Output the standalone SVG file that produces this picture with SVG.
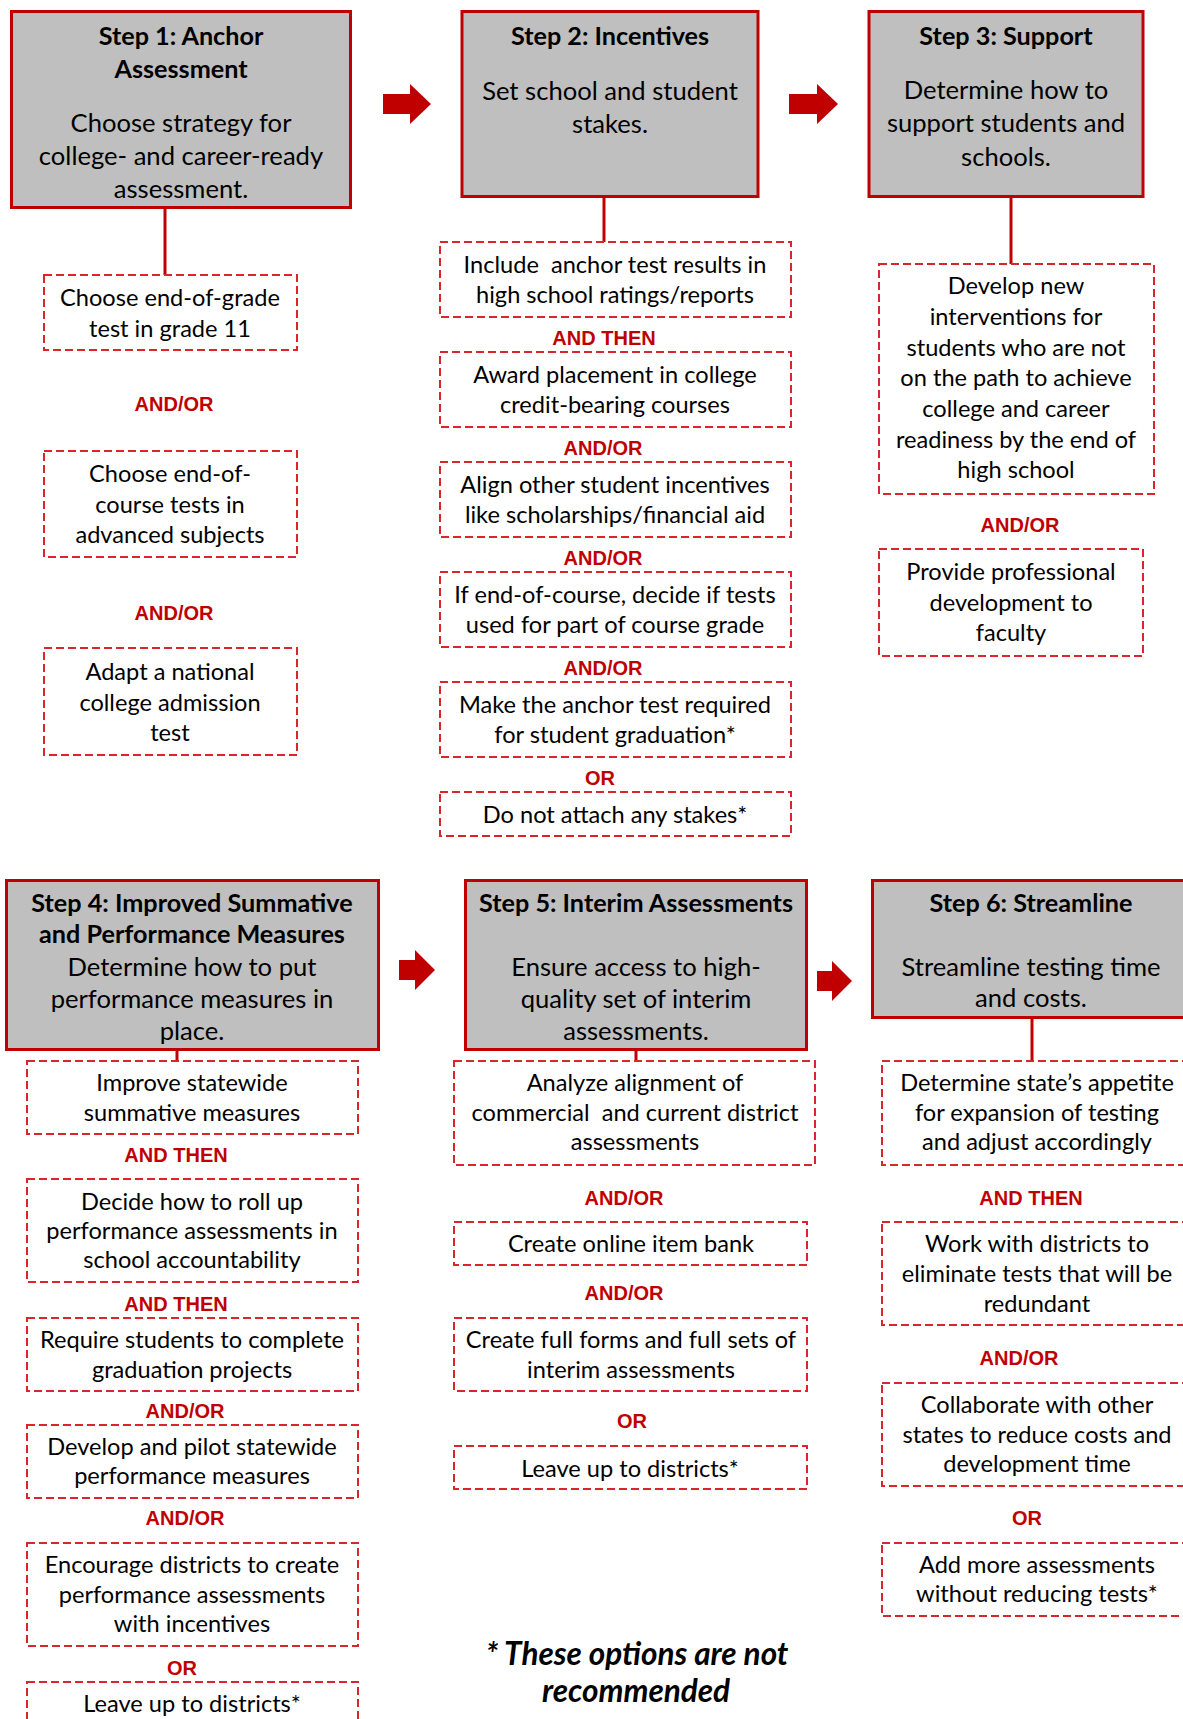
<svg xmlns="http://www.w3.org/2000/svg" width="1183" height="1719" viewBox="0 0 1183 1719">
<style>
.step{fill:#BFBFBF;stroke:#C00000;stroke-width:3}
.opt{fill:#FFFFFF;stroke:#D9262B;stroke-width:2;stroke-dasharray:8 4}
.conn{stroke:#C00000;stroke-width:3;fill:none}
.arrow{fill:#C00000}
text{font-family:Lato,"Open Sans","Liberation Sans",sans-serif;text-anchor:middle;fill:#000}
.t{font-size:25.2px;font-weight:bold}
.b{font-size:25.6px}
.o{font-size:23.6px}
.lab{font-family:"Liberation Sans",Arial,sans-serif;font-size:20px;font-weight:bold;fill:#C00000}
.foot{font-size:31.5px;font-weight:bold;font-style:italic}
</style>
<rect width="1183" height="1719" fill="#FFFFFF"/>
<g id="connectors">
<line class="conn" x1="165" y1="209" x2="165" y2="275"/>
<line class="conn" x1="604" y1="198" x2="604" y2="242"/>
<line class="conn" x1="1011" y1="198" x2="1011" y2="264"/>
<line class="conn" x1="177" y1="1051" x2="177" y2="1061"/>
<line class="conn" x1="636" y1="1051" x2="636" y2="1061"/>
<line class="conn" x1="1032" y1="1019" x2="1032" y2="1061"/>
<polygon class="arrow" points="383,94 410,94 410,84 431,104 410,124 410,114 383,114"/>
<polygon class="arrow" points="789,94 817,94 817,84 838,104 817,124 817,114 789,114"/>
<polygon class="arrow" points="399,960 415,960 415,950 435,970 415,990 415,980 399,980"/>
<polygon class="arrow" points="817,971 832,971 832,961 852,981 832,1001 832,991 817,991"/>
</g>
<g id="step1">
<rect class="step" x="11.5" y="11.5" width="339" height="196"/>
<text class="t"><tspan x="181" y="45">Step 1: Anchor</tspan><tspan x="181" y="78">Assessment</tspan></text>
<text class="b"><tspan x="181" y="132">Choose strategy for</tspan><tspan x="181" y="165">college- and career-ready</tspan><tspan x="181" y="198">assessment.</tspan></text>
</g>
<g id="opt1a">
<rect class="opt" x="44" y="275" width="253" height="75"/>
<text class="o"><tspan x="170" y="306">Choose end-of-grade</tspan><tspan x="170" y="337">test in grade 11</tspan></text>
</g>
<text class="lab" x="174" y="411">AND/OR</text>
<g id="opt1b">
<rect class="opt" x="44" y="451" width="253" height="106"/>
<text class="o"><tspan x="170" y="482">Choose end-of-</tspan><tspan x="170" y="513">course tests in</tspan><tspan x="170" y="543">advanced subjects</tspan></text>
</g>
<text class="lab" x="174" y="620">AND/OR</text>
<g id="opt1c">
<rect class="opt" x="44" y="648" width="253" height="107"/>
<text class="o"><tspan x="170" y="680">Adapt a national</tspan><tspan x="170" y="711">college admission</tspan><tspan x="170" y="741">test</tspan></text>
</g>
<g id="step2">
<rect class="step" x="462" y="11.5" width="296" height="185"/>
<text class="t" x="610" y="45">Step 2: Incentives</text>
<text class="b"><tspan x="610" y="100">Set school and student</tspan><tspan x="610" y="133">stakes.</tspan></text>
</g>
<g id="opt2a">
<rect class="opt" x="440" y="242" width="351" height="75"/>
<text class="o"><tspan x="615" y="273">Include &#160;anchor test results in</tspan><tspan x="615" y="303">high school ratings/reports</tspan></text>
</g>
<text class="lab" x="604" y="345">AND THEN</text>
<g id="opt2b">
<rect class="opt" x="440" y="352" width="351" height="75"/>
<text class="o"><tspan x="615" y="383">Award placement in college</tspan><tspan x="615" y="413">credit-bearing courses</tspan></text>
</g>
<text class="lab" x="603" y="455">AND/OR</text>
<g id="opt2c">
<rect class="opt" x="440" y="462" width="351" height="75"/>
<text class="o"><tspan x="615" y="493">Align other student incentives</tspan><tspan x="615" y="523">like scholarships/financial aid</tspan></text>
</g>
<text class="lab" x="603" y="565">AND/OR</text>
<g id="opt2d">
<rect class="opt" x="440" y="572" width="351" height="75"/>
<text class="o"><tspan x="615" y="603">If end-of-course, decide if tests</tspan><tspan x="615" y="633">used for part of course grade</tspan></text>
</g>
<text class="lab" x="603" y="675">AND/OR</text>
<g id="opt2e">
<rect class="opt" x="440" y="682" width="351" height="75"/>
<text class="o"><tspan x="615" y="713">Make the anchor test required</tspan><tspan x="615" y="743">for student graduation*</tspan></text>
</g>
<text class="lab" x="600" y="785">OR</text>
<g id="opt2f">
<rect class="opt" x="440" y="792" width="351" height="44"/>
<text class="o" x="615" y="823">Do not attach any stakes*</text>
</g>
<g id="step3">
<rect class="step" x="869" y="11.5" width="274" height="185"/>
<text class="t" x="1006" y="45">Step 3: Support</text>
<text class="b"><tspan x="1006" y="99">Determine how to</tspan><tspan x="1006" y="132">support students and</tspan><tspan x="1006" y="166">schools.</tspan></text>
</g>
<g id="opt3a">
<rect class="opt" x="879" y="264" width="275" height="230"/>
<text class="o"><tspan x="1016" y="294">Develop new</tspan><tspan x="1016" y="325">interventions for</tspan><tspan x="1016" y="356">students who are not</tspan><tspan x="1016" y="386">on the path to achieve</tspan><tspan x="1016" y="417">college and career</tspan><tspan x="1016" y="448">readiness by the end of</tspan><tspan x="1016" y="478">high school</tspan></text>
</g>
<text class="lab" x="1020" y="532">AND/OR</text>
<g id="opt3b">
<rect class="opt" x="879" y="549" width="264" height="107"/>
<text class="o"><tspan x="1011" y="580">Provide professional</tspan><tspan x="1011" y="611">development to</tspan><tspan x="1011" y="641">faculty</tspan></text>
</g>
<g id="step4">
<rect class="step" x="6.5" y="880.5" width="372" height="169"/>
<text class="t"><tspan x="192" y="912">Step 4: Improved Summative</tspan><tspan x="192" y="943">and Performance Measures</tspan></text>
<text class="b"><tspan x="192" y="976">Determine how to put</tspan><tspan x="192" y="1008">performance measures in</tspan><tspan x="192" y="1040">place.</tspan></text>
</g>
<g id="opt4a">
<rect class="opt" x="27" y="1061" width="331" height="73"/>
<text class="o"><tspan x="192" y="1091">Improve statewide</tspan><tspan x="192" y="1121">summative measures</tspan></text>
</g>
<text class="lab" x="176" y="1162">AND THEN</text>
<g id="opt4b">
<rect class="opt" x="27" y="1179" width="331" height="103"/>
<text class="o"><tspan x="192" y="1210">Decide how to roll up</tspan><tspan x="192" y="1239">performance assessments in</tspan><tspan x="192" y="1268">school accountability</tspan></text>
</g>
<text class="lab" x="176" y="1311">AND THEN</text>
<g id="opt4c">
<rect class="opt" x="27" y="1318" width="331" height="73"/>
<text class="o"><tspan x="192" y="1348">Require students to complete</tspan><tspan x="192" y="1378">graduation projects</tspan></text>
</g>
<text class="lab" x="185" y="1418">AND/OR</text>
<g id="opt4d">
<rect class="opt" x="27" y="1425" width="331" height="73"/>
<text class="o"><tspan x="192" y="1455">Develop and pilot statewide</tspan><tspan x="192" y="1484">performance measures</tspan></text>
</g>
<text class="lab" x="185" y="1525">AND/OR</text>
<g id="opt4e">
<rect class="opt" x="27" y="1543" width="331" height="103"/>
<text class="o"><tspan x="192" y="1573">Encourage districts to create</tspan><tspan x="192" y="1603">performance assessments</tspan><tspan x="192" y="1632">with incentives</tspan></text>
</g>
<text class="lab" x="182" y="1675">OR</text>
<g id="opt4f">
<rect class="opt" x="27" y="1682" width="331" height="60"/>
<text class="o" x="192" y="1712">Leave up to districts*</text>
</g>
<g id="step5">
<rect class="step" x="465.5" y="880.5" width="341" height="169"/>
<text class="t" x="636" y="912">Step 5: Interim Assessments</text>
<text class="b"><tspan x="636" y="976">Ensure access to high-</tspan><tspan x="636" y="1008">quality set of interim</tspan><tspan x="636" y="1040">assessments.</tspan></text>
</g>
<g id="opt5a">
<rect class="opt" x="454" y="1061" width="361" height="104"/>
<text class="o"><tspan x="635" y="1091">Analyze alignment of</tspan><tspan x="635" y="1121">commercial &#160;and current district</tspan><tspan x="635" y="1150">assessments</tspan></text>
</g>
<text class="lab" x="624" y="1205">AND/OR</text>
<g id="opt5b">
<rect class="opt" x="454" y="1222" width="353" height="43"/>
<text class="o" x="631" y="1252">Create online item bank</text>
</g>
<text class="lab" x="624" y="1300">AND/OR</text>
<g id="opt5c">
<rect class="opt" x="454" y="1318" width="353" height="73"/>
<text class="o"><tspan x="631" y="1348">Create full forms and full sets of</tspan><tspan x="631" y="1378">interim assessments</tspan></text>
</g>
<text class="lab" x="632" y="1428">OR</text>
<g id="opt5d">
<rect class="opt" x="454" y="1446" width="353" height="43"/>
<text class="o" x="630" y="1477">Leave up to districts*</text>
</g>
<g id="footnote">
<text class="foot"><tspan x="637" y="1665">* These options are not</tspan><tspan x="636" y="1702">recommended</tspan></text>
</g>
<g id="step6">
<rect class="step" x="872.5" y="880.5" width="320" height="137"/>
<text class="t" x="1031" y="912">Step 6: Streamline</text>
<text class="b"><tspan x="1031" y="976">Streamline testing time</tspan><tspan x="1031" y="1007">and costs.</tspan></text>
</g>
<g id="opt6a">
<rect class="opt" x="882" y="1061" width="310" height="104"/>
<text class="o"><tspan x="1037" y="1091">Determine state’s appetite</tspan><tspan x="1037" y="1121">for expansion of testing</tspan><tspan x="1037" y="1150">and adjust accordingly</tspan></text>
</g>
<text class="lab" x="1031" y="1205">AND THEN</text>
<g id="opt6b">
<rect class="opt" x="882" y="1222" width="310" height="103"/>
<text class="o"><tspan x="1037" y="1252">Work with districts to</tspan><tspan x="1037" y="1282">eliminate tests that will be</tspan><tspan x="1037" y="1312">redundant</tspan></text>
</g>
<text class="lab" x="1019" y="1365">AND/OR</text>
<g id="opt6c">
<rect class="opt" x="882" y="1383" width="310" height="103"/>
<text class="o"><tspan x="1037" y="1413">Collaborate with other</tspan><tspan x="1037" y="1443">states to reduce costs and</tspan><tspan x="1037" y="1472">development time</tspan></text>
</g>
<text class="lab" x="1027" y="1525">OR</text>
<g id="opt6d">
<rect class="opt" x="882" y="1543" width="310" height="73"/>
<text class="o"><tspan x="1037" y="1573">Add more assessments</tspan><tspan x="1037" y="1602">without reducing tests*</tspan></text>
</g>
</svg>
